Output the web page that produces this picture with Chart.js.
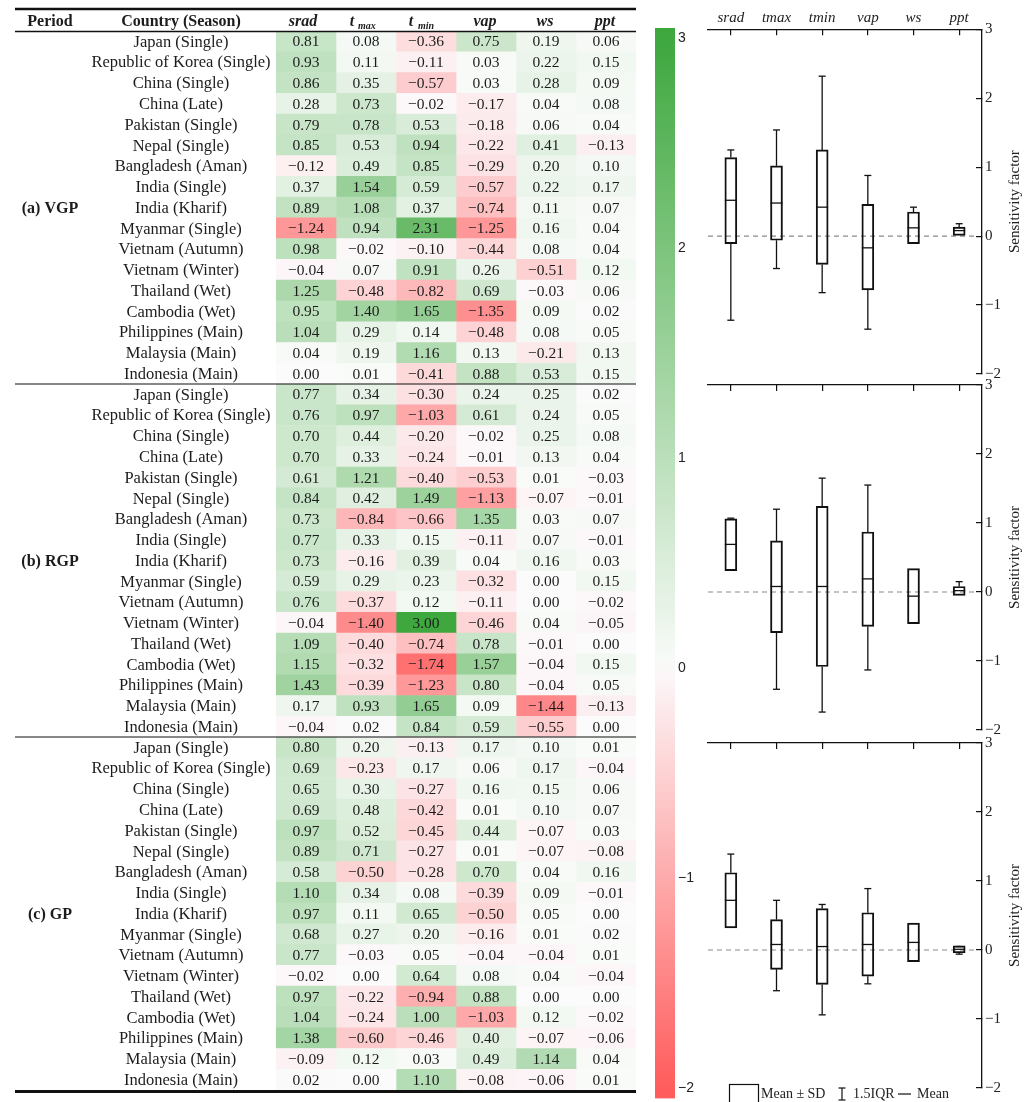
<!DOCTYPE html>
<html><head><meta charset="utf-8">
<script src="https://cdn.jsdelivr.net/npm/chart.js@4.4.1/dist/chart.umd.min.js"></script>
<style>
html,body{margin:0;padding:0;background:#fff;}
body{width:1030px;height:1102px;position:relative;overflow:hidden;}
canvas{position:absolute;}
</style></head><body>
<canvas id="heat" style="left:0px;top:0px" width="640" height="1102"></canvas>
<canvas id="cbar" style="left:640px;top:0px" width="60" height="1110"></canvas>
<canvas id="p1" style="left:690px;top:0px" width="340" height="392"></canvas>
<canvas id="p2" style="left:690px;top:365px" width="340" height="383"></canvas>
<canvas id="p3" style="left:690px;top:723px" width="340" height="383"></canvas>
<script>
// ---------------- DATA ----------------
const countries = ['Japan (Single)','Republic of Korea (Single)','China (Single)','China (Late)','Pakistan (Single)','Nepal (Single)','Bangladesh (Aman)','India (Single)','India (Kharif)','Myanmar (Single)','Vietnam (Autumn)','Vietnam (Winter)','Thailand (Wet)','Cambodia (Wet)','Philippines (Main)','Malaysia (Main)','Indonesia (Main)'];
const periodNames = ['(a) VGP','(b) RGP','(c) GP'];
const variables = ['srad','tmax','tmin','vap','ws','ppt'];
const colorbarTicks = [-2,-1,0,1,2,3];
const colorbarRange = [-2.05, 3.05];

// rows: srad, tmax, tmin, vap, ws, ppt
const vgpValues = [
 [0.81,0.08,-0.36,0.75,0.19,0.06],
 [0.93,0.11,-0.11,0.03,0.22,0.15],
 [0.86,0.35,-0.57,0.03,0.28,0.09],
 [0.28,0.73,-0.02,-0.17,0.04,0.08],
 [0.79,0.78,0.53,-0.18,0.06,0.04],
 [0.85,0.53,0.94,-0.22,0.41,-0.13],
 [-0.12,0.49,0.85,-0.29,0.20,0.10],
 [0.37,1.54,0.59,-0.57,0.22,0.17],
 [0.89,1.08,0.37,-0.74,0.11,0.07],
 [-1.24,0.94,2.31,-1.25,0.16,0.04],
 [0.98,-0.02,-0.10,-0.44,0.08,0.04],
 [-0.04,0.07,0.91,0.26,-0.51,0.12],
 [1.25,-0.48,-0.82,0.69,-0.03,0.06],
 [0.95,1.40,1.65,-1.35,0.09,0.02],
 [1.04,0.29,0.14,-0.48,0.08,0.05],
 [0.04,0.19,1.16,0.13,-0.21,0.13],
 [0.00,0.01,-0.41,0.88,0.53,0.15]
];
const rgpValues = [
 [0.77,0.34,-0.30,0.24,0.25,0.02],
 [0.76,0.97,-1.03,0.61,0.24,0.05],
 [0.70,0.44,-0.20,-0.02,0.25,0.08],
 [0.70,0.33,-0.24,-0.01,0.13,0.04],
 [0.61,1.21,-0.40,-0.53,0.01,-0.03],
 [0.84,0.42,1.49,-1.13,-0.07,-0.01],
 [0.73,-0.84,-0.66,1.35,0.03,0.07],
 [0.77,0.33,0.15,-0.11,0.07,-0.01],
 [0.73,-0.16,0.39,0.04,0.16,0.03],
 [0.59,0.29,0.23,-0.32,0.00,0.15],
 [0.76,-0.37,0.12,-0.11,0.00,-0.02],
 [-0.04,-1.40,3.00,-0.46,0.04,-0.05],
 [1.09,-0.40,-0.74,0.78,-0.01,0.00],
 [1.15,-0.32,-1.74,1.57,-0.04,0.15],
 [1.43,-0.39,-1.23,0.80,-0.04,0.05],
 [0.17,0.93,1.65,0.09,-1.44,-0.13],
 [-0.04,0.02,0.84,0.59,-0.55,0.00]
];
const gpValues = [
 [0.80,0.20,-0.13,0.17,0.10,0.01],
 [0.69,-0.23,0.17,0.06,0.17,-0.04],
 [0.65,0.30,-0.27,0.16,0.15,0.06],
 [0.69,0.48,-0.42,0.01,0.10,0.07],
 [0.97,0.52,-0.45,0.44,-0.07,0.03],
 [0.89,0.71,-0.27,0.01,-0.07,-0.08],
 [0.58,-0.50,-0.28,0.70,0.04,0.16],
 [1.10,0.34,0.08,-0.39,0.09,-0.01],
 [0.97,0.11,0.65,-0.50,0.05,0.00],
 [0.68,0.27,0.20,-0.16,0.01,0.02],
 [0.77,-0.03,0.05,-0.04,-0.04,0.01],
 [-0.02,0.00,0.64,0.08,0.04,-0.04],
 [0.97,-0.22,-0.94,0.88,0.00,0.00],
 [1.04,-0.24,1.00,-1.03,0.12,-0.02],
 [1.38,-0.60,-0.46,0.40,-0.07,-0.06],
 [-0.09,0.12,0.03,0.49,1.14,0.04],
 [0.02,0.00,1.10,-0.08,-0.06,0.01]
];

// box-plot statistics (srad..ppt)
const vgpBoxLow   = [-0.11,-0.06,-0.41,-0.78,-0.11,0.01];
const vgpBoxHigh  = [1.14,1.02,1.25,0.46,0.35,0.13];
const vgpMean     = [0.52,0.48,0.42,-0.17,0.12,0.08];
const vgpWhiskLow = [-1.22,-0.47,-0.82,-1.35,null,null];
const vgpWhiskHigh= [1.25,1.54,2.32,0.88,0.42,0.18];

const rgpBoxLow   = [0.31,-0.59,-1.08,-0.50,-0.46,-0.05];
const rgpBoxHigh  = [1.06,0.74,1.24,0.87,0.34,0.08];
const rgpMean     = [0.69,0.08,0.08,0.19,-0.06,0.02];
const rgpWhiskLow = [null,-1.41,-1.74,-1.13,null,null];
const rgpWhiskHigh= [1.07,1.20,1.65,1.55,null,0.15];

const gpBoxLow    = [0.32,-0.28,-0.50,-0.38,-0.17,-0.04];
const gpBoxHigh   = [1.12,0.44,0.60,0.54,0.39,0.06];
const gpMean      = [0.72,0.08,0.05,0.08,0.11,0.01];
const gpWhiskLow  = [null,-0.59,-0.94,-0.49,null,-0.06];
const gpWhiskHigh = [1.39,0.72,0.66,0.89,null,0.05];

// ---------------- HELPERS ----------------
const SERIF = '"Liberation Serif", "Times New Roman", serif';
const SANS = '"Liberation Sans", Arial, sans-serif';
function lerp(a,b,t){return Math.round(a+(b-a)*t);}
function cellColor(v){
  if (v >= 0){ const t=Math.min(v/3,1); return `rgb(${lerp(250,62,t)},${lerp(251,168,t)},${lerp(250,62,t)})`; }
  const t=Math.min(-v/2,1); return `rgb(${lerp(252,255,t)},${lerp(249,92,t)},${lerp(251,92,t)})`;
}
function fmt(v){ const s=Math.abs(v).toFixed(2); return v<0 ? '\u2212'+s : s; }
function minusTick(v){ return v<0 ? '\u2212'+Math.abs(v) : String(v); }

Chart.defaults.animation = false;
Chart.defaults.responsive = false;
Chart.defaults.maintainAspectRatio = false;
Chart.defaults.plugins.legend.display = false;
Chart.defaults.plugins.tooltip.enabled = false;

// ---------------- HEATMAP ----------------
const allRows = [vgpValues, rgpValues, gpValues].flat();
const rowCountries = [countries, countries, countries].flat();
const rowIds = allRows.map((r,i)=> periodNames[Math.floor(i/17)]+' '+rowCountries[i]);

const heatDatasets = variables.map((name,c)=>({
  label:name,
  data: allRows.map(()=>[c,c+1]),
  backgroundColor: allRows.map(r=>cellColor(r[c])),
  borderWidth:0,
  barPercentage:1, categoryPercentage:1, grouped:false
}));

const heatText = {
  id:'heatText',
  afterDatasetsDraw(chart){
    const {ctx, scales:{x,y}} = chart;
    ctx.save();
    ctx.fillStyle='#1c1c1c';
    ctx.textAlign='center'; ctx.textBaseline='middle';
    ctx.font='15.5px '+SERIF;
    allRows.forEach((row,i)=>{
      const py=y.getPixelForValue(i)+1;
      row.forEach((v,c)=>ctx.fillText(fmt(v), x.getPixelForValue(c+0.5), py));
    });
    ctx.font='16.5px '+SERIF;
    rowCountries.forEach((n,i)=>ctx.fillText(n, 181, y.getPixelForValue(i)+1));
    ctx.font='bold 16px '+SERIF;
    periodNames.forEach((p,k)=>ctx.fillText(p, 50, y.getPixelForValue(k*17+8)+1));
    // header
    ctx.textBaseline='alphabetic';
    ctx.fillText('Period', 50, 26);
    ctx.fillText('Country (Season)', 181, 26);
    ctx.font='bold italic 16px '+SERIF;
    const hx = c=>x.getPixelForValue(c+0.5);
    ctx.fillText('srad', hx(0)-3, 26);
    ctx.fillText('vap', hx(3)-1, 26);
    ctx.fillText('ws', hx(4)-1, 26);
    ctx.fillText('ppt', hx(5)-1, 26);
    ctx.fillText('t', hx(1)-14, 26);
    ctx.fillText('t', hx(2)-15, 26);
    ctx.textAlign='left';
    ctx.font='bold italic 10px '+SERIF;
    ctx.fillText('max', hx(1)-8, 29);
    ctx.fillText('min', hx(2)-8, 29);
    // rules
    const L=15, R=x.right;
    ctx.strokeStyle='#111';
    const rule=(yy,w)=>{ctx.lineWidth=w;ctx.beginPath();ctx.moveTo(L,yy);ctx.lineTo(R,yy);ctx.stroke();};
    rule(9,2.5);
    rule(y.top+0.5,1.4);
    const band=(y.bottom-y.top)/allRows.length;
    rule(y.top+band*17,1.2);
    rule(y.top+band*34,1.2);
    rule(y.bottom+1.5,3);
    ctx.restore();
  }
};

new Chart(document.getElementById('heat'),{
  type:'bar',
  data:{labels:rowIds, datasets:heatDatasets},
  options:{
    indexAxis:'y',
    layout:{padding:{left:276,right:4,top:31,bottom:12}},
    scales:{
      x:{type:'linear',min:0,max:6,display:false},
      y:{type:'category',display:false,offset:true}
    }
  },
  plugins:[heatText]
});

// ---------------- COLOR BAR ----------------
new Chart(document.getElementById('cbar'),{
  type:'bar',
  data:{labels:['scale'], datasets:[{
    data:[colorbarRange],
    backgroundColor:(ctx)=>{
      const chart=ctx.chart; if(!chart.chartArea) return '#fff';
      const ys=chart.scales.y;
      const top=ys.getPixelForValue(colorbarRange[1]), bot=ys.getPixelForValue(colorbarRange[0]);
      const g=chart.ctx.createLinearGradient(0,top,0,bot);
      const n=51;
      for(let k=0;k<=n;k++){ const v=colorbarRange[1]-k*(colorbarRange[1]-colorbarRange[0])/n; g.addColorStop(k/n, cellColor(v)); }
      return g;
    },
    borderWidth:0, barPercentage:1, categoryPercentage:1
  }]},
  options:{
    layout:{padding:{left:15,right:0,top:28,bottom:11.5}},
    scales:{
      x:{display:false},
      y:{position:'right',min:colorbarRange[0],max:colorbarRange[1],
         afterBuildTicks:s=>{s.ticks=colorbarTicks.map(v=>({value:v}));},
         ticks:{padding:3,color:'#222',font:{family:SANS,size:14},callback:minusTick},
         grid:{display:false, drawTicks:false}, border:{display:false},
         afterFit:s=>{s.width=25;}}
    }
  }
});

// ---------------- BOX PANELS ----------------
function boxPanel(id, low, high, mean, wl, wh, opts){
  const extras = {
    id:'boxExtras',
    beforeDatasetsDraw(chart){
      const {ctx, scales:{y}, chartArea:ca} = chart;
      ctx.save();
      ctx.strokeStyle='#8a8a8a'; ctx.lineWidth=1.2; ctx.setLineDash([5,4]);
      const y0=y.getPixelForValue(0);
      ctx.beginPath(); ctx.moveTo(ca.left,y0); ctx.lineTo(ca.right-5,y0); ctx.stroke();
      ctx.restore();
    },
    afterDatasetsDraw(chart){
      const {ctx, scales:{x,y}, chartArea:ca} = chart;
      ctx.save();
      ctx.strokeStyle='#111'; ctx.lineWidth=1.3;
      const seg=(a,b,c,d)=>{ctx.beginPath();ctx.moveTo(a,b);ctx.lineTo(c,d);ctx.stroke();};
      mean.forEach((m,i)=>{
        const cx=x.getPixelForValue(i);
        const ym=y.getPixelForValue(m);
        seg(cx-6,ym,cx+6,ym);
        if(wh[i]!=null){ const a=y.getPixelForValue(high[i]), b=y.getPixelForValue(wh[i]); seg(cx,a,cx,b); seg(cx-3.5,b,cx+3.5,b); }
        if(wl[i]!=null){ const a=y.getPixelForValue(low[i]), b=y.getPixelForValue(wl[i]); seg(cx,a,cx,b); seg(cx-3.5,b,cx+3.5,b); }
      });
      // rotated axis title
      ctx.fillStyle='#222'; ctx.font='15px '+SERIF; ctx.textAlign='center'; ctx.textBaseline='middle';
      ctx.translate(325,(ca.top+ca.bottom)/2); ctx.rotate(-Math.PI/2);
      ctx.fillText('Sensitivity factor',0,0);
      ctx.restore();
      if(opts.legend){
        ctx.save();
        ctx.strokeStyle='#111'; ctx.lineWidth=1.2; ctx.fillStyle='#222';
        const ly = opts.legendY;
        ctx.strokeRect(39.5, ly-9.5, 29, 20);
        ctx.font='14px '+SERIF; ctx.textAlign='left'; ctx.textBaseline='middle';
        ctx.fillText('Mean \u00B1 SD', 71, ly);
        seg(152,ly-6,152,ly+6); seg(148.5,ly-6,155.5,ly-6); seg(148.5,ly+6,155.5,ly+6);
        ctx.fillText('1.5IQR', 163, ly);
        seg(208,ly,221,ly);
        ctx.fillText('Mean', 227, ly);
        ctx.restore();
      }
    }
  };
  new Chart(document.getElementById(id),{
    type:'bar',
    data:{labels:variables, datasets:[{
      data: low.map((l,i)=>[l,high[i]]),
      backgroundColor:'rgba(255,255,255,0)', borderColor:'#111', borderWidth:1.3,
      borderSkipped:false, barThickness:12
    }]},
    options:{
      layout:{padding:{left:18,right:0,top:0,bottom:opts.padBottom}},
      scales:{
        x:{position:'top', offset:true,
           grid:{offset:false, drawOnChartArea:false, tickLength:-6, color:'#111', lineWidth:1.2},
           border:{display:true, color:'#111', width:1.3},
           ticks:{padding:8, color:'#222', font:{family:SERIF,size:15,style:'italic'},
                  callback:(v,i)=> opts.showLabels ? variables[i] : ''},
           afterFit:s=>{s.height=opts.topH;}},
        y:{position:'right', min:-2, max:3,
           ticks:{stepSize:1, padding:9, color:'#222', font:{family:SERIF,size:15}, callback:minusTick},
           grid:{drawOnChartArea:false, tickLength:-6, color:'#111', lineWidth:1.2},
           border:{display:true, color:'#111', width:1.3},
           afterFit:s=>{s.width=48;}}
      }
    },
    plugins:[extras]
  });
}
boxPanel('p1', vgpBoxLow, vgpBoxHigh, vgpMean, vgpWhiskLow, vgpWhiskHigh, {topH:29.3, padBottom:12, showLabels:true});
boxPanel('p2', rgpBoxLow, rgpBoxHigh, rgpMean, rgpWhiskLow, rgpWhiskHigh, {topH:20, padBottom:12, showLabels:false});
boxPanel('p3', gpBoxLow, gpBoxHigh, gpMean, gpWhiskLow, gpWhiskHigh, {topH:20, padBottom:12, showLabels:false, legend:true, legendY:371});
</script>
</body></html>
